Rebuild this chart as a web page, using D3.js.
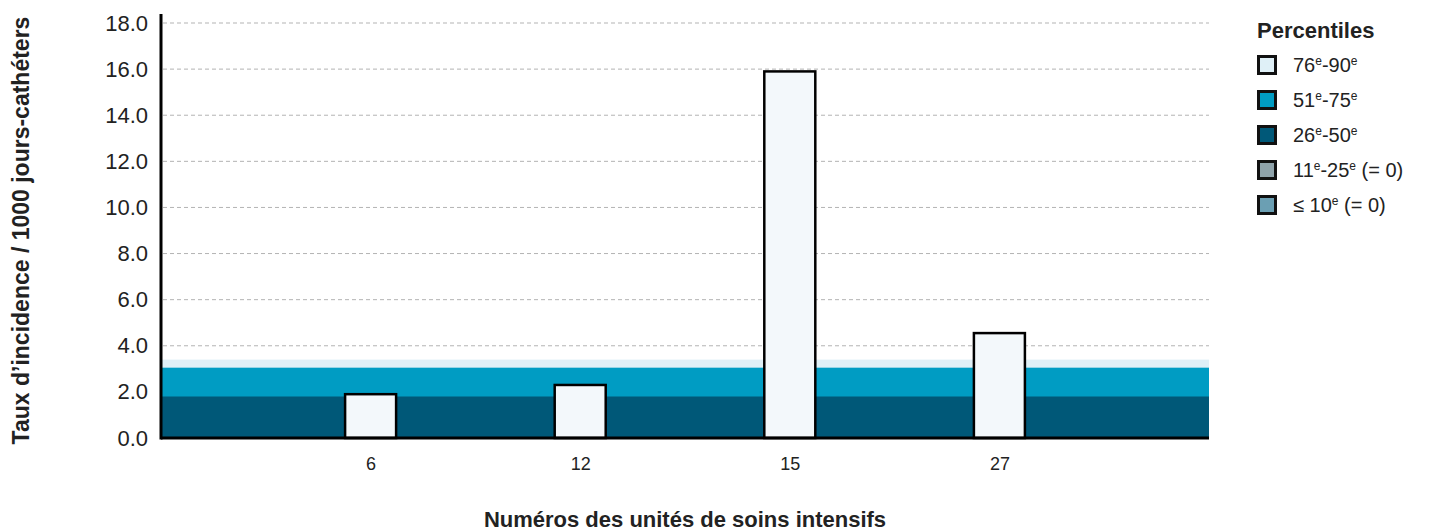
<!doctype html>
<html lang="fr">
	<head>
		<meta charset="utf-8">
		<title>Taux d'incidence par unité</title>
		<script src="https://d3js.org/d3.v7.min.js"></script>
		<style>
			body { margin: 0; background: #fff; }
			text { font-family: 'Liberation Sans', Arial, sans-serif; fill: #222; }
			.grid line { stroke: #b3b3b3; stroke-dasharray: 4 3; }
		</style>
	</head>
	<body>
		<div id="chart"></div>
		<script>
			let units = ['6', '12', '15', '27']
			let rates = [1.9, 2.3, 15.9, 4.55]
			let yTicks = [0, 2, 4, 6, 8, 10, 12, 14, 16, 18]

			// percentile bands (upper bound of each band)
			let bandNames = ['76e-90e', '51e-75e', '26e-50e', '11e-25e', '≤ 10e']
			let bandTops = [3.4, 3.05, 1.8, 0, 0]
			let bandColors = ['#dff0f7', '#009cc3', '#005878', '#8fa3aa', '#6b9fb3']
			let legendLabels = [
				['76', '-90', ''],
				['51', '-75', ''],
				['26', '-50', ''],
				['11', '-25', ' (= 0)'],
				['≤ 10', '', ' (= 0)'],
			]

			let width = 1429
			let height = 531
			let plotLeft = 161, plotRight = 1209, plotTop = 23, plotBottom = 438

			let svg = d3.select('#chart').append('svg')
				.attr('width', width)
				.attr('height', height)

			let x = d3.scalePoint()
				.domain([''].concat(units, [' ']))
				.range([plotLeft, plotRight])

			let y = d3.scaleLinear()
				.domain([0, 18])
				.range([plotBottom, plotTop])

			let barW = 51

			// bands, drawn back to front
			svg.append('g').selectAll('rect')
				.data(bandTops.map((t, i) => ({ top: t, color: bandColors[i] })).filter(d => d.top > 0))
				.enter().append('rect')
					.attr('x', plotLeft)
					.attr('width', plotRight - plotLeft)
					.attr('y', d => y(d.top))
					.attr('height', d => y(0) - y(d.top))
					.attr('fill', d => d.color)

			// dashed grid lines
			svg.append('g')
				.attr('class', 'grid')
				.selectAll('line')
				.data(yTicks.filter(t => t > bandTops[0]))
				.enter().append('line')
					.attr('x1', plotLeft + 2)
					.attr('x2', plotRight)
					.attr('y1', d => y(d))
					.attr('y2', d => y(d))

			// bars
			svg.append('g').selectAll('rect')
				.data(units)
				.enter().append('rect')
					.attr('x', (d) => x(d) - barW / 2)
					.attr('width', barW)
					.attr('y', (d, i) => y(rates[i]))
					.attr('height', (d, i) => y(0) - y(rates[i]))
					.attr('fill', '#f3f8fb')
					.attr('stroke', '#000')
					.attr('stroke-width', 2.5)

			// y axis
			let yAxis = svg.append('g')
				.attr('transform', `translate(${plotLeft},0)`)
				.call(d3.axisLeft(y).tickValues(yTicks).tickSize(0).tickPadding(13).tickFormat(d3.format('.1f')))
			yAxis.select('.domain').remove()
			yAxis.selectAll('text').style('font-size', '22px').attr('fill', '#222')

			svg.append('line')
				.attr('x1', plotLeft).attr('x2', plotLeft)
				.attr('y1', 14).attr('y2', plotBottom + 1.5)
				.attr('stroke', '#000').attr('stroke-width', 3)
			svg.append('line')
				.attr('x1', plotLeft).attr('x2', plotRight)
				.attr('y1', plotBottom).attr('y2', plotBottom)
				.attr('stroke', '#000').attr('stroke-width', 3)

			// x axis labels
			let xAxis = svg.append('g')
				.attr('transform', `translate(0,${plotBottom})`)
				.call(d3.axisBottom(x).tickValues(units).tickSize(0).tickPadding(19))
			xAxis.select('.domain').remove()
			xAxis.selectAll('text').style('font-size', '18px').attr('fill', '#222')

			// axis titles
			svg.append('text')
				.attr('transform', `translate(29,${(plotTop + plotBottom) / 2}) rotate(-90)`)
				.attr('text-anchor', 'middle')
				.style('font-size', '23px')
				.style('font-weight', 'bold')
				.text('Taux d’incidence / 1000 jours-cathéters')

			svg.append('text')
				.attr('x', (plotLeft + plotRight) / 2)
				.attr('y', 527)
				.attr('text-anchor', 'middle')
				.style('font-size', '22px')
				.style('font-weight', 'bold')
				.text('Numéros des unités de soins intensifs')

			// legend
			let legend = svg.append('g').attr('transform', 'translate(1257,0)')
			legend.append('text')
				.attr('x', 0).attr('y', 38)
				.style('font-size', '22px')
				.style('font-weight', 'bold')
				.text('Percentiles')

			let rows = legend.selectAll('g.row')
				.data(bandNames)
				.enter().append('g')
					.attr('class', 'row')
					.attr('transform', (d, i) => `translate(0,${65 + i * 35})`)

			rows.append('rect')
				.attr('x', 1.5).attr('y', -8.5)
				.attr('width', 17).attr('height', 17)
				.attr('fill', (d, i) => bandColors[i])
				.attr('stroke', '#111')
				.attr('stroke-width', 3)

			rows.append('text')
				.attr('x', 36).attr('y', 7)
				.style('font-size', '20px')
				.each(function(d, i) {
					let t = d3.select(this)
					let [a, b, c] = legendLabels[i]
					t.append('tspan').text(a)
					t.append('tspan').attr('dy', -7).style('font-size', '12px').text('e')
					if (b) {
						t.append('tspan').attr('dy', 7).text(b)
						t.append('tspan').attr('dy', -7).style('font-size', '12px').text('e')
					}
					t.append('tspan').attr('dy', 7).text(c)
				})
		</script>
	</body>
</html>
